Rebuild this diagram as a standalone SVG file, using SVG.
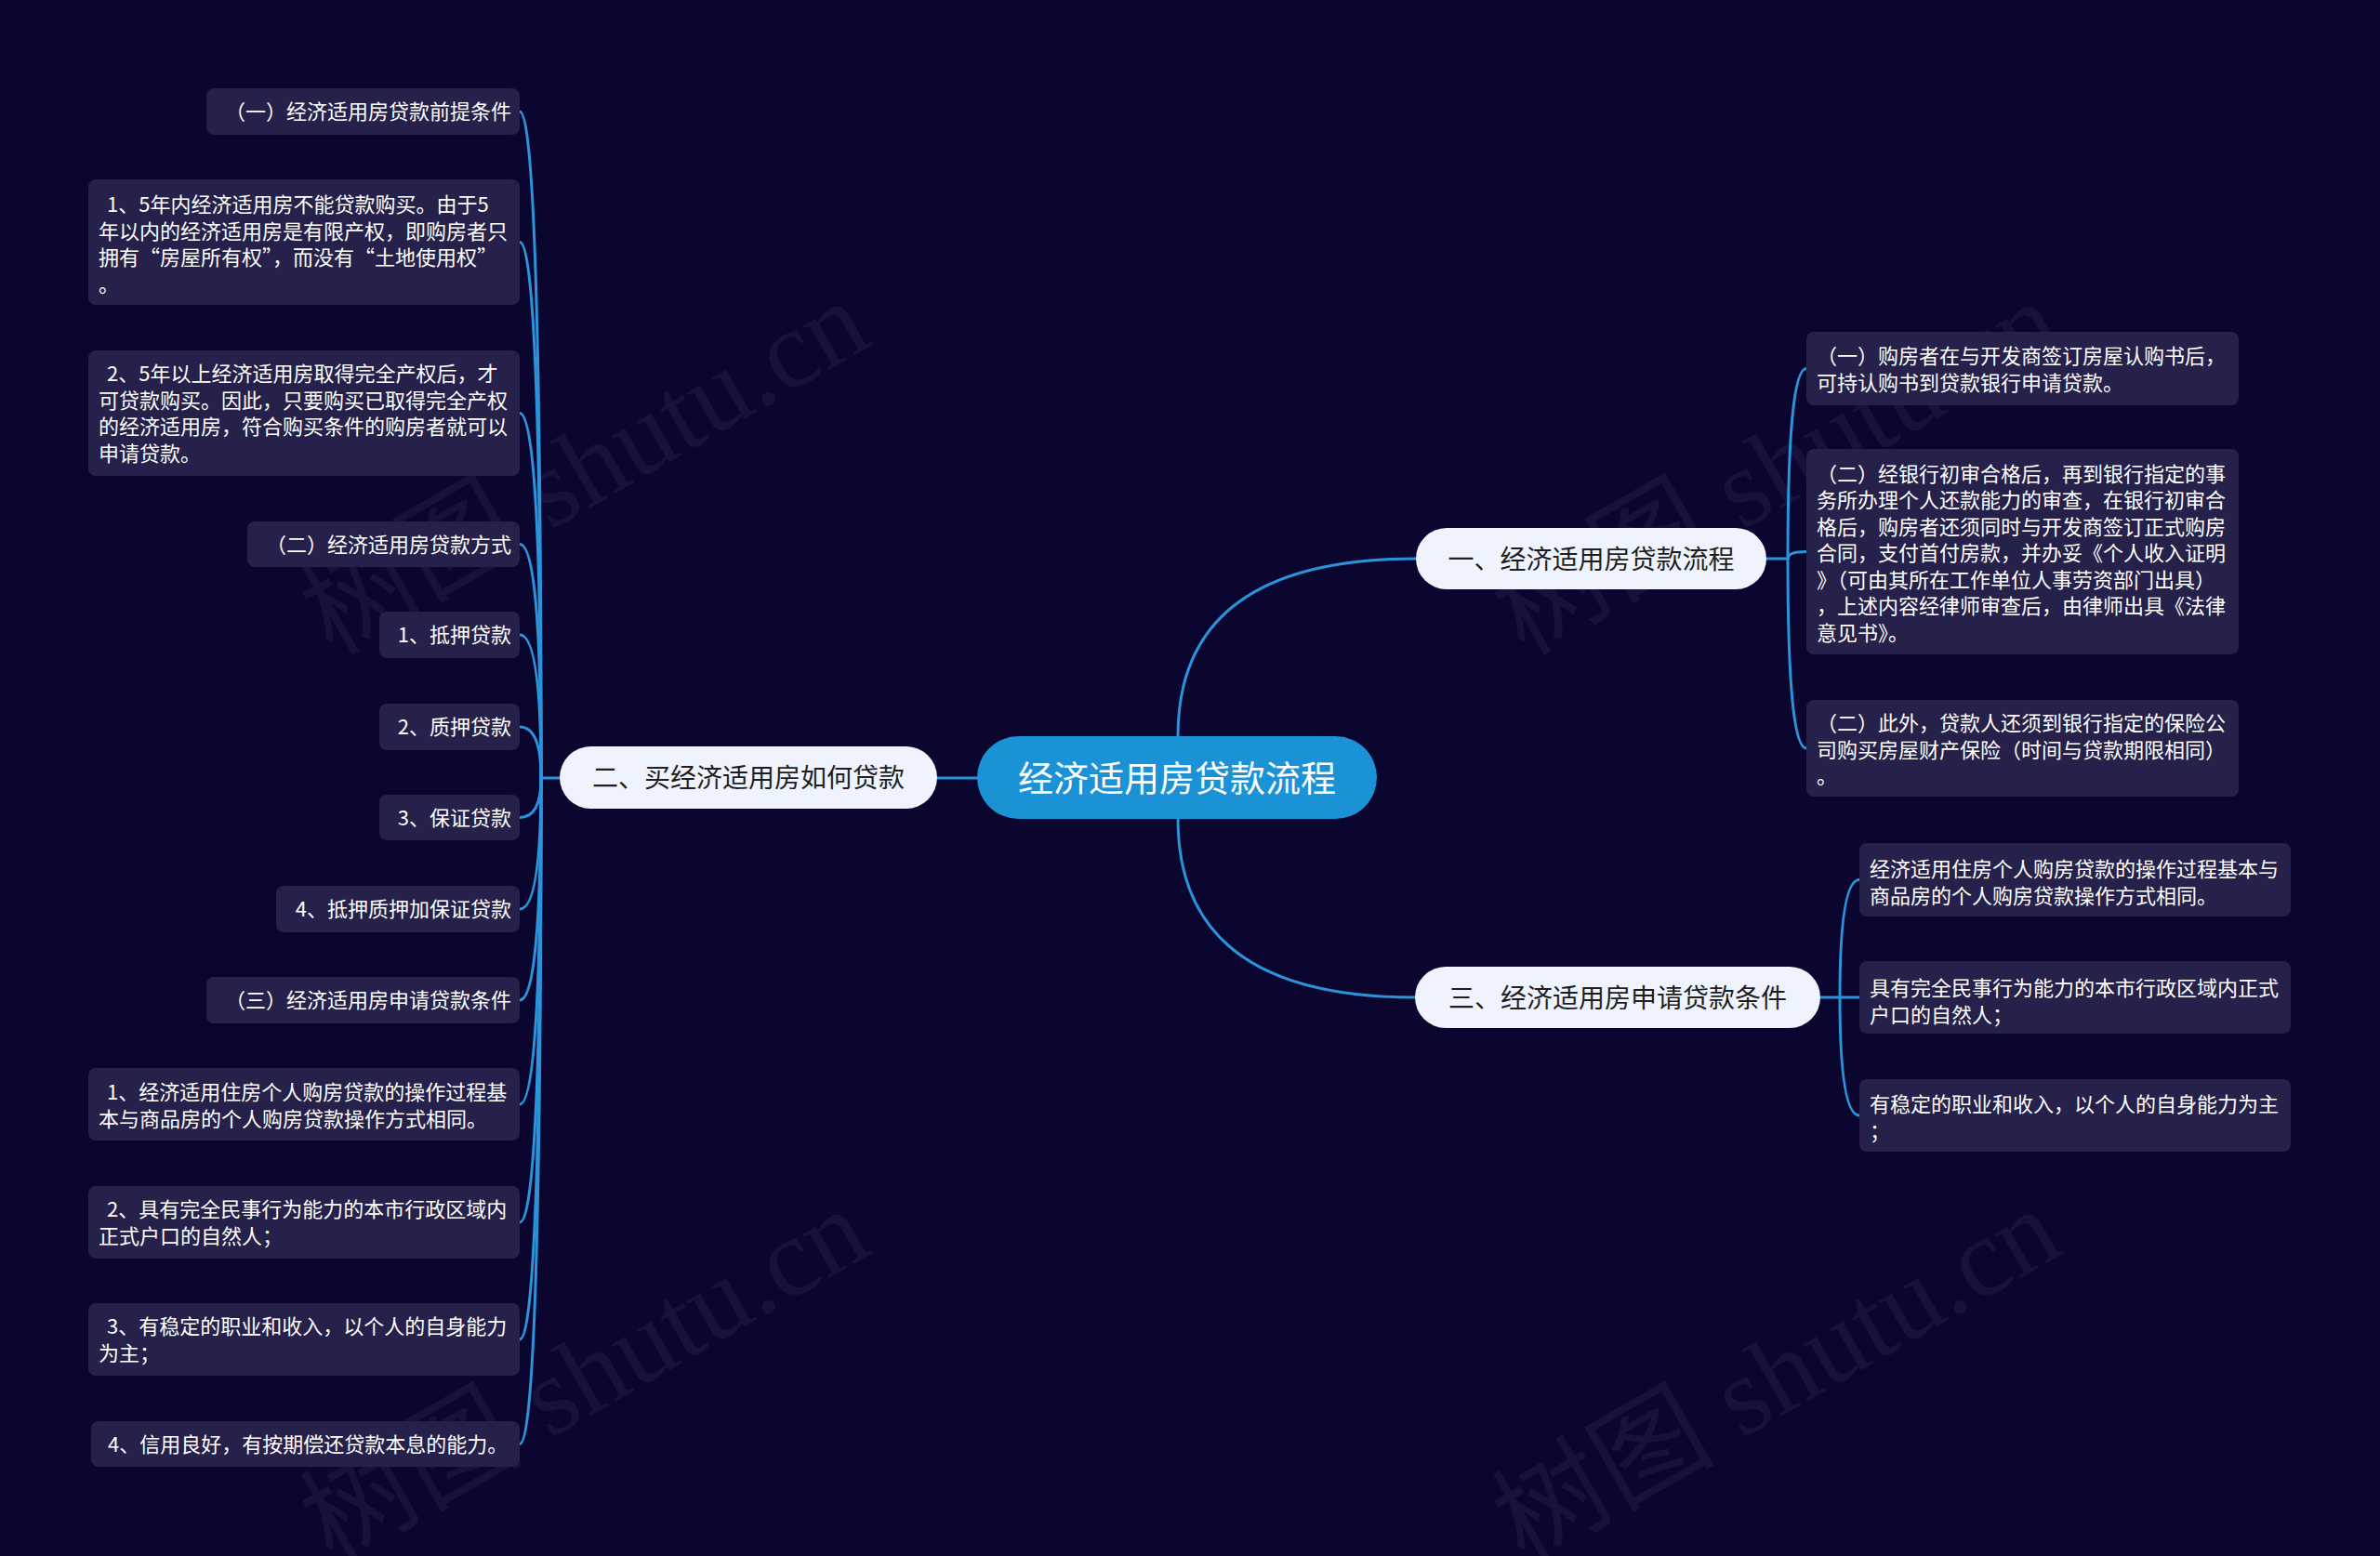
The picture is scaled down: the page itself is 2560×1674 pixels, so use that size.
<svg xmlns="http://www.w3.org/2000/svg" width="2560" height="1674" viewBox="0 0 2560 1674">
<style>
.bg{fill:#0b062f}
.wm{font-family:"Liberation Serif","Noto Sans CJK SC",serif;font-size:120px;fill:#ffffff;fill-opacity:0.05}
.leaf{fill:#25214a}
.lt{font-family:"Noto Sans CJK SC","Liberation Sans",sans-serif;font-size:22px;fill:#ffffff}
.main{fill:#eef3fd}
.mt{font-family:"Noto Sans CJK SC","Liberation Sans",sans-serif;font-size:28px;fill:#1e1e1e;text-anchor:middle}
.root{fill:#1a92d5}
.rt{font-family:"Noto Sans CJK SC","Liberation Sans",sans-serif;font-size:38px;fill:#ffffff;text-anchor:middle}
.c{fill:none;stroke:#2b93da;stroke-width:3;stroke-linecap:round}
.end{text-anchor:end}
</style>
<rect class="bg" x="0" y="0" width="2560" height="1674"/>
<g id="watermarks">
<text class="wm" x="649" y="538" text-anchor="middle" transform="rotate(-30 649 538)">树图 shutu.cn</text>
<text class="wm" x="1931" y="538" text-anchor="middle" transform="rotate(-30 1931 538)">树图 shutu.cn</text>
<text class="wm" x="649" y="1515" text-anchor="middle" transform="rotate(-30 649 1515)">树图 shutu.cn</text>
<text class="wm" x="1931" y="1515" text-anchor="middle" transform="rotate(-30 1931 1515)">树图 shutu.cn</text>
</g>
<g id="connectors">
<path class="c" d="M1051 837 L1008 837"/>
<path class="c" d="M1267 792 Q1267 601 1523 601"/>
<path class="c" d="M1267 881 Q1267 1073 1522 1073"/>
<path class="c" d="M602 837 L582 837"/>
<path class="c" d="M582 837 Q582 120 559 120"/>
<path class="c" d="M582 837 Q582 260.5 559 260.5"/>
<path class="c" d="M582 837 Q582 444.5 559 444.5"/>
<path class="c" d="M582 837 Q582 585.5 559 585.5"/>
<path class="c" d="M582 837 Q582 683 559 683"/>
<path class="c" d="M582 837 Q582 782 559 782"/>
<path class="c" d="M582 837 Q582 879.5 559 879.5"/>
<path class="c" d="M582 837 Q582 978 559 978"/>
<path class="c" d="M582 837 Q582 1076 559 1076"/>
<path class="c" d="M582 837 Q582 1188 559 1188"/>
<path class="c" d="M582 837 Q582 1315 559 1315"/>
<path class="c" d="M582 837 Q582 1441 559 1441"/>
<path class="c" d="M582 837 Q582 1553.5 559 1553.5"/>
<path class="c" d="M1900 601 L1923 601"/>
<path class="c" d="M1923 601 Q1923 396.5 1943 396.5"/>
<path class="c" d="M1923 601 Q1923 593.5 1943 593.5"/>
<path class="c" d="M1923 601 Q1923 805 1943 805"/>
<path class="c" d="M1958 1073 L1979 1073"/>
<path class="c" d="M1979 1073 Q1979 946.5 2000 946.5"/>
<path class="c" d="M1979 1073 Q1979 1073 2000 1073"/>
<path class="c" d="M1979 1073 Q1979 1200 2000 1200"/>
</g>
<g id="root">
<rect class="root" x="1051" y="792" width="430" height="89" rx="44.5"/>
<text class="rt" x="1266" y="851">经济适用房贷款流程</text>
</g>
<g id="b2">
<rect class="main" x="602" y="803" width="406" height="67" rx="33.5"/>
<text class="mt" x="805" y="847">二、买经济适用房如何贷款</text>
</g>
<g id="b1">
<rect class="main" x="1523" y="568" width="377" height="66" rx="33"/>
<text class="mt" x="1711.5" y="611.5">一、经济适用房贷款流程</text>
</g>
<g id="b3">
<rect class="main" x="1522" y="1040" width="436" height="66" rx="33"/>
<text class="mt" x="1740" y="1083.5">三、经济适用房申请贷款条件</text>
</g>
<g id="l1">
<rect class="leaf" x="222" y="95" width="337" height="50" rx="8"/>
<text class="lt end" x="550" y="128.4">（一）经济适用房贷款前提条件</text>
</g>
<g id="l2">
<rect class="leaf" x="95" y="193" width="464" height="135" rx="8"/>
<text class="lt" y="228.4"><tspan x="115">1、5年内经济适用房不能贷款购买。由于5</tspan><tspan x="106" dy="28.5">年以内的经济适用房是有限产权，即购房者只</tspan><tspan x="106" dy="28.5">拥有“房屋所有权”，而没有“土地使用权”</tspan><tspan x="106" dy="28.5">。</tspan></text>
</g>
<g id="l3">
<rect class="leaf" x="95" y="377" width="464" height="135" rx="8"/>
<text class="lt" y="410.4"><tspan x="115">2、5年以上经济适用房取得完全产权后，才</tspan><tspan x="106" dy="28.5">可贷款购买。因此，只要购买已取得完全产权</tspan><tspan x="106" dy="28.5">的经济适用房，符合购买条件的购房者就可以</tspan><tspan x="106" dy="28.5">申请贷款。</tspan></text>
</g>
<g id="l4">
<rect class="leaf" x="266" y="561" width="293" height="49" rx="8"/>
<text class="lt end" x="550" y="594">（二）经济适用房贷款方式</text>
</g>
<g id="l5">
<rect class="leaf" x="408" y="658" width="151" height="50" rx="8"/>
<text class="lt end" x="550" y="691.4">1、抵押贷款</text>
</g>
<g id="l6">
<rect class="leaf" x="408" y="757" width="151" height="50" rx="8"/>
<text class="lt end" x="550" y="790.4">2、质押贷款</text>
</g>
<g id="l7">
<rect class="leaf" x="408" y="855" width="151" height="49" rx="8"/>
<text class="lt end" x="550" y="888">3、保证贷款</text>
</g>
<g id="l8">
<rect class="leaf" x="297" y="953" width="262" height="50" rx="8"/>
<text class="lt end" x="550" y="986.4">4、抵押质押加保证贷款</text>
</g>
<g id="l9">
<rect class="leaf" x="222" y="1051" width="337" height="50" rx="8"/>
<text class="lt end" x="550" y="1084.4">（三）经济适用房申请贷款条件</text>
</g>
<g id="l10">
<rect class="leaf" x="95" y="1149" width="464" height="78" rx="8"/>
<text class="lt" y="1183.4"><tspan x="115">1、经济适用住房个人购房贷款的操作过程基</tspan><tspan x="106" dy="28.5">本与商品房的个人购房贷款操作方式相同。</tspan></text>
</g>
<g id="l11">
<rect class="leaf" x="95" y="1276" width="464" height="78" rx="8"/>
<text class="lt" y="1309.4"><tspan x="115">2、具有完全民事行为能力的本市行政区域内</tspan><tspan x="106" dy="28.5">正式户口的自然人；</tspan></text>
</g>
<g id="l12">
<rect class="leaf" x="95" y="1402" width="464" height="78" rx="8"/>
<text class="lt" y="1435.4"><tspan x="115">3、有稳定的职业和收入，以个人的自身能力</tspan><tspan x="106" dy="28.5">为主；</tspan></text>
</g>
<g id="l13">
<rect class="leaf" x="98" y="1529" width="461" height="49" rx="8"/>
<text class="lt" x="116" y="1562">4、信用良好，有按期偿还贷款本息的能力。</text>
</g>
<g id="r1a">
<rect class="leaf" x="1943" y="357" width="465" height="79" rx="8"/>
<text class="lt" y="391.4"><tspan x="1954">（一）购房者在与开发商签订房屋认购书后，</tspan><tspan x="1954" dy="28.5">可持认购书到贷款银行申请贷款。</tspan></text>
</g>
<g id="r1b">
<rect class="leaf" x="1943" y="483" width="465" height="221" rx="8"/>
<text class="lt" y="517.9"><tspan x="1954">（二）经银行初审合格后，再到银行指定的事</tspan><tspan x="1954" dy="28.5">务所办理个人还款能力的审查，在银行初审合</tspan><tspan x="1954" dy="28.5">格后，购房者还须同时与开发商签订正式购房</tspan><tspan x="1954" dy="28.5">合同，支付首付房款，并办妥《个人收入证明</tspan><tspan x="1954" dy="28.5">》（可由其所在工作单位人事劳资部门出具）</tspan><tspan x="1954" dy="28.5">，上述内容经律师审查后，由律师出具《法律</tspan><tspan x="1954" dy="28.5">意见书》。</tspan></text>
</g>
<g id="r1c">
<rect class="leaf" x="1943" y="753" width="465" height="104" rx="8"/>
<text class="lt" y="786.4"><tspan x="1954">（二）此外，贷款人还须到银行指定的保险公</tspan><tspan x="1954" dy="28.5">司购买房屋财产保险（时间与贷款期限相同）</tspan><tspan x="1954" dy="28.5">。</tspan></text>
</g>
<g id="r3a">
<rect class="leaf" x="2000" y="907" width="464" height="79" rx="8"/>
<text class="lt" y="943.4"><tspan x="2011">经济适用住房个人购房贷款的操作过程基本与</tspan><tspan x="2011" dy="28.5">商品房的个人购房贷款操作方式相同。</tspan></text>
</g>
<g id="r3b">
<rect class="leaf" x="2000" y="1034" width="464" height="78" rx="8"/>
<text class="lt" y="1071.4"><tspan x="2011">具有完全民事行为能力的本市行政区域内正式</tspan><tspan x="2011" dy="28.5">户口的自然人；</tspan></text>
</g>
<g id="r3c">
<rect class="leaf" x="2000" y="1161" width="464" height="78" rx="8"/>
<text class="lt" y="1196.4"><tspan x="2011">有稳定的职业和收入，以个人的自身能力为主</tspan><tspan x="2011" dy="28.5">；</tspan></text>
</g>
</svg>
